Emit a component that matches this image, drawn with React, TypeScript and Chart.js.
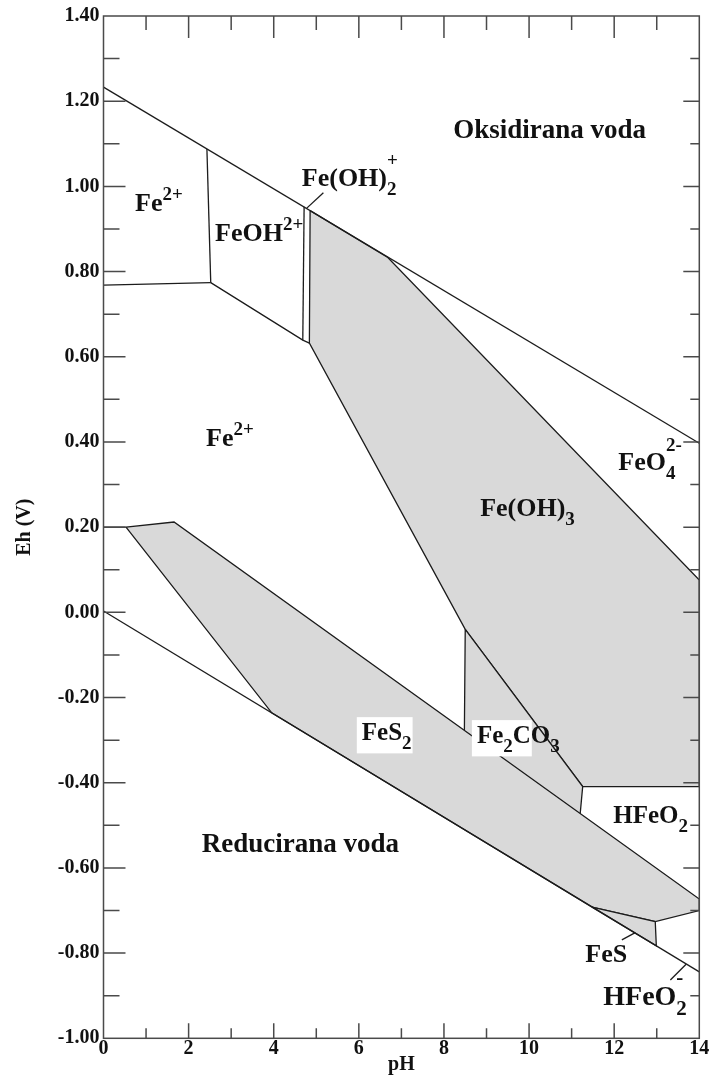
import React, { useEffect, useRef } from 'react';
import { Chart, registerables } from 'chart.js';

Chart.register(...registerables);

// ---------- axes ----------
const X_MIN = 0;
const X_MAX = 14;
const Y_MIN = -1.0;
const Y_MAX = 1.4;
const xMajorTicks = [0, 2, 4, 6, 8, 10, 12, 14];
const xMinorTicks = [1, 3, 5, 7, 9, 11, 13];
const yMajorTicks = [-1.0, -0.8, -0.6, -0.4, -0.2, 0.0, 0.2, 0.4, 0.6, 0.8, 1.0, 1.2, 1.4];
const yMinorTicks = [-0.9, -0.7, -0.5, -0.3, -0.1, 0.1, 0.3, 0.5, 0.7, 0.9, 1.1, 1.3];
const xTitle = 'pH';
const yTitle = 'Eh (V)';

// ---------- water stability lines ----------
const upperWaterPH = [0, 14];
const upperWaterEh = [1.233, 0.397];
const lowerWaterPH = [0, 14];
const lowerWaterEh = [0.003, -0.844];

// ---------- boundary lines (white fields) ----------
const fe3LinePH = [0, 2.52];
const fe3LineEh = [0.768, 0.774];
const feoh2LeftPH = [2.43, 2.52];
const feoh2LeftEh = [1.088, 0.774];
const feoh2BottomPH = [2.52, 4.683, 4.838];
const feoh2BottomEh = [0.774, 0.639, 0.632];
const feoh2pLeftPH = [4.683, 4.714];
const feoh2pLeftEh = [0.639, 0.952];
const fes2TopLeftPH = [0, 0.529];
const fes2TopLeftEh = [0.2, 0.2];

// label pointer lines
const ptrFeOH2PH = [4.777, 5.167];
const ptrFeOH2Eh = [0.949, 0.985];
const ptrFeSPH = [12.18, 12.495];
const ptrFeSEh = [-0.769, -0.752];
const ptrHFeO2PH = [13.32, 13.69];
const ptrHFeO2Eh = [-0.863, -0.826];

// ---------- shaded (solid) fields ----------
const feoh3PH = [4.855, 6.681, 14, 14, 11.26, 8.5, 4.838, 4.855];
const feoh3Eh = [0.943, 0.833, 0.076, -0.409, -0.409, -0.04, 0.632, 0.943];
const fe2co3PH = [8.5, 11.26, 11.2, 8.48, 8.5];
const fe2co3Eh = [-0.04, -0.409, -0.474, -0.28, -0.04];
const fes2PH = [0.529, 1.657, 14, 14, 12.965, 11.48, 3.954, 0.529];
const fes2Eh = [0.2, 0.212, -0.673, -0.7, -0.726, -0.692, -0.236, 0.2];
const fesPH = [11.48, 12.965, 12.99, 11.48];
const fesEh = [-0.692, -0.726, -0.783, -0.692];

// ---------- field labels: [text, kind] kind 0 normal, 1 sub, 2 sup, 3 sup stacked over previous ----------
type Seg = [string, number];
interface RegionLabel { pH: number; Eh: number; size: number; segs: Seg[]; box?: number }
const regionLabels: RegionLabel[] = [
  { pH: 8.217, Eh: 1.114, size: 27, segs: [['Oksidirana voda', 0]] },
  { pH: 0.741, Eh: 0.942, size: 26, segs: [['Fe', 0], ['2+', 2]] },
  { pH: 2.621, Eh: 0.872, size: 26, segs: [['FeOH', 0], ['2+', 2]] },
  { pH: 4.66, Eh: 1.001, size: 26, segs: [['Fe(OH)', 0], ['2', 1], ['+', 3]] },
  { pH: 2.41, Eh: 0.3905, size: 26, segs: [['Fe', 0], ['2+', 2]] },
  { pH: 8.851, Eh: 0.226, size: 26, segs: [['Fe(OH)', 0], ['3', 1]] },
  { pH: 12.096, Eh: 0.334, size: 26, segs: [['FeO', 0], ['4', 1], ['2-', 3]] },
  { pH: 6.07, Eh: -0.3, size: 25, segs: [['FeS', 0], ['2', 1]], box: 2 },
  { pH: 8.774, Eh: -0.307, size: 25, segs: [['Fe', 0], ['2', 1], ['C', 0], ['O', 0], ['3', 1]], box: 3 },
  { pH: 11.978, Eh: -0.495, size: 25, segs: [['HFeO', 0], ['2', 1]] },
  { pH: 2.309, Eh: -0.562, size: 27, segs: [['Reducirana voda', 0]] },
  { pH: 11.32, Eh: -0.82, size: 26, segs: [['FeS', 0]] },
  { pH: 11.743, Eh: -0.922, size: 28, segs: [['HFeO', 0], ['2', 1], ['-', 3]] },
];

const FONT = '"Liberation Serif", "Times New Roman", Times, serif';
const LINE_COLOR = '#1c1c1c';
const FILL_COLOR = '#d9d9d9';
const AXIS_COLOR = '#4a4a4a';

const pts = (ph: number[], eh: number[]) => ph.map((x, i) => ({ x, y: eh[i] }));

const lineDs = (ph: number[], eh: number[]) => ({
  data: pts(ph, eh),
  showLine: true,
  pointRadius: 0,
  borderColor: LINE_COLOR,
  borderWidth: 1.3,
  fill: false,
  tension: 0,
});

const polyDs = (ph: number[], eh: number[]) => ({
  data: pts(ph, eh),
  showLine: true,
  pointRadius: 0,
  borderColor: LINE_COLOR,
  borderWidth: 1.3,
  backgroundColor: FILL_COLOR,
  fill: 'shape',
  tension: 0,
});

function drawRegionLabel(ctx: CanvasRenderingContext2D, x0: number, y0: number, lab: RegionLabel) {
  const small = Math.round(lab.size * 0.74);
  const items: { t: string; size: number; sx: number; dy: number; w: number }[] = [];
  let x = x0;
  let prevStart = x0;
  for (const [t, k] of lab.segs) {
    const size = k === 0 ? lab.size : small;
    ctx.font = `bold ${size}px ${FONT}`;
    const w = ctx.measureText(t).width;
    let sx = x;
    let dy = 0;
    if (k === 1) dy = lab.size * 0.36;
    else if (k === 2) dy = -lab.size * 0.42;
    else if (k === 3) { sx = prevStart; dy = -lab.size * 0.75; }
    items.push({ t, size, sx, dy, w });
    if (k !== 3) { prevStart = sx; x = sx + w; } else { x = Math.max(x, sx + w); }
  }
  if (lab.box) {
    const last = items[lab.box - 1];
    const endX = last.sx + last.w;
    ctx.fillStyle = '#ffffff';
    ctx.fillRect(x0 - 5, y0 - lab.size * 0.92, endX - x0 + 6, lab.size * 1.45);
  }
  ctx.fillStyle = '#111111';
  ctx.textAlign = 'left';
  ctx.textBaseline = 'alphabetic';
  for (const it of items) {
    ctx.font = `bold ${it.size}px ${FONT}`;
    ctx.fillText(it.t, it.sx, y0 + it.dy);
  }
}

const frameAndLabels = {
  id: 'frameAndLabels',
  afterDatasetsDraw(chart: any) {
    const { ctx, chartArea: a, scales } = chart;
    const xs = scales.x;
    const ys = scales.y;
    ctx.save();
    for (const lab of regionLabels) {
      drawRegionLabel(ctx, xs.getPixelForValue(lab.pH), ys.getPixelForValue(lab.Eh), lab);
    }
    ctx.strokeStyle = AXIS_COLOR;
    ctx.lineWidth = 1.5;
    ctx.beginPath();
    const inner = (v: number, lo: number, hi: number) => v > lo + 1e-9 && v < hi - 1e-9;
    for (const v of xMajorTicks.filter((t) => inner(t, X_MIN, X_MAX))) {
      const px = xs.getPixelForValue(v);
      ctx.moveTo(px, a.bottom); ctx.lineTo(px, a.bottom - 15);
      ctx.moveTo(px, a.top); ctx.lineTo(px, a.top + 22);
    }
    for (const v of xMinorTicks) {
      const px = xs.getPixelForValue(v);
      ctx.moveTo(px, a.bottom); ctx.lineTo(px, a.bottom - 10);
      ctx.moveTo(px, a.top); ctx.lineTo(px, a.top + 14);
    }
    for (const v of yMajorTicks.filter((t) => inner(t, Y_MIN, Y_MAX))) {
      const py = ys.getPixelForValue(v);
      ctx.moveTo(a.left, py); ctx.lineTo(a.left + 22, py);
      ctx.moveTo(a.right, py); ctx.lineTo(a.right - 16, py);
    }
    for (const v of yMinorTicks) {
      const py = ys.getPixelForValue(v);
      ctx.moveTo(a.left, py); ctx.lineTo(a.left + 16, py);
      ctx.moveTo(a.right, py); ctx.lineTo(a.right - 9, py);
    }
    ctx.stroke();
    ctx.strokeRect(a.left, a.top, a.right - a.left, a.bottom - a.top);
    ctx.restore();
  },
};

export default function App() {
  const ref = useRef<HTMLCanvasElement | null>(null);

  useEffect(() => {
    if (!ref.current) return;
    const tickFont = { family: FONT, size: 20, weight: 'bold' as const, lineHeight: 1.1 };
    const chart = new Chart(ref.current, {
      type: 'scatter',
      data: {
        datasets: [
          lineDs(upperWaterPH, upperWaterEh),
          lineDs(lowerWaterPH, lowerWaterEh),
          lineDs(fe3LinePH, fe3LineEh),
          lineDs(feoh2LeftPH, feoh2LeftEh),
          lineDs(feoh2BottomPH, feoh2BottomEh),
          lineDs(feoh2pLeftPH, feoh2pLeftEh),
          lineDs(fes2TopLeftPH, fes2TopLeftEh),
          lineDs(ptrFeOH2PH, ptrFeOH2Eh),
          lineDs(ptrFeSPH, ptrFeSEh),
          lineDs(ptrHFeO2PH, ptrHFeO2Eh),
          polyDs(fesPH, fesEh),
          polyDs(fes2PH, fes2Eh),
          polyDs(fe2co3PH, fe2co3Eh),
          polyDs(feoh3PH, feoh3Eh),
        ] as any,
      },
      options: {
        animation: false,
        responsive: false,
        maintainAspectRatio: false,
        layout: { padding: { top: 16, right: 13.7, left: 0, bottom: 0 } },
        plugins: { legend: { display: false }, tooltip: { enabled: false } },
        scales: {
          x: {
            type: 'linear',
            min: X_MIN,
            max: X_MAX,
            afterBuildTicks: (s: any) => { s.ticks = xMajorTicks.map((v) => ({ value: v })); },
            afterFit: (s: any) => { s.height = 36.7; },
            grid: { display: false, drawTicks: false },
            border: { display: false },
            ticks: {
              font: tickFont,
              color: '#111',
              padding: 0,
              maxRotation: 0,
              autoSkip: false,
              callback: (v: any) => String(v),
            },
            title: {
              display: true,
              text: xTitle,
              color: '#111',
              font: { family: FONT, size: 20, weight: 'bold', lineHeight: 1 },
              padding: { top: 0, bottom: 0 },
            },
          },
          y: {
            type: 'linear',
            min: Y_MIN,
            max: Y_MAX,
            afterBuildTicks: (s: any) => { s.ticks = yMajorTicks.map((v) => ({ value: v })); },
            afterFit: (s: any) => { s.width = 103.5; },
            grid: { display: false, drawTicks: false },
            border: { display: false },
            ticks: {
              font: tickFont,
              color: '#111',
              padding: 4,
              autoSkip: false,
              callback: (v: any) => (Math.abs(Number(v)) < 1e-9 ? '0.00' : Number(v).toFixed(2)),
            },
            title: {
              display: true,
              text: yTitle,
              color: '#111',
              font: { family: FONT, size: 20, weight: 'bold', lineHeight: 1 },
              padding: { top: 15, bottom: 0 },
            },
          },
        },
      } as any,
      plugins: [frameAndLabels],
    });
    return () => chart.destroy();
  }, []);

  return (
    <div style={{ position: 'absolute', left: 0, top: 0, width: 713, height: 1075, background: '#fff' }}>
      <canvas ref={ref} width={713} height={1075} style={{ display: 'block', width: 713, height: 1075 }} />
    </div>
  );
}
